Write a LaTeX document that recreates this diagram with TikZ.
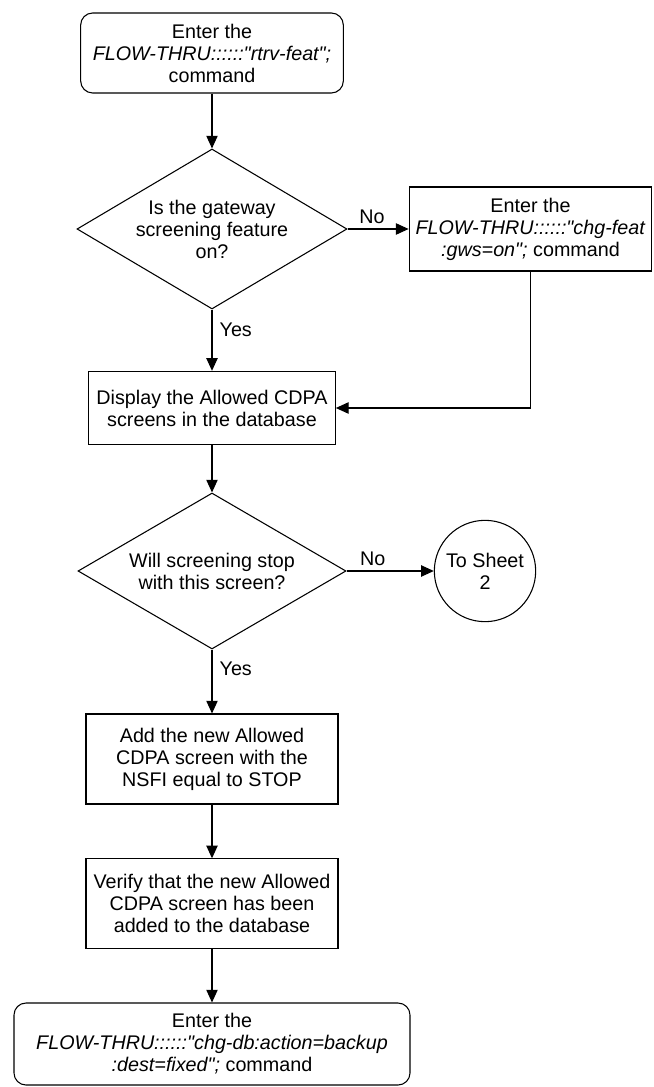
\documentclass[tikz,border=0pt]{standalone}
\usepackage{fontspec}
\setmainfont{Liberation Sans}[Ligatures=TeXOff]
\usetikzlibrary{arrows.meta,shapes.geometric}

\begin{document}
\begin{tikzpicture}[
  x=0.75pt,y=-0.75pt,
  font={\fontsize{14.8pt}{16.5pt}\selectfont},
  term/.style={rectangle,rounded corners=9pt,draw=black,line width=0.8pt,align=center,inner sep=0pt},
  proc/.style={rectangle,draw=black,line width=0.8pt,align=center,inner sep=0pt},
  decision/.style={diamond,aspect=1.7,draw=black,line width=0.8pt,align=center,inner sep=0pt},
  sheet/.style={circle,draw=black,line width=0.8pt,align=center,inner sep=0pt,minimum size=76pt},
  arc/.style={-{Triangle[length=9.5pt,width=8.5pt]},line width=0.8pt,black},
  lab/.style={black},
]
\useasboundingbox (0,0) rectangle (653,1087);
\node[term,minimum width=197pt,minimum height=60pt] (start) at (212,53) {Enter the\\\textit{FLOW-THRU::::::"rtrv-feat";}\\command};
\node[decision,minimum width=202.5pt,minimum height=120pt] (gws) at (212,229) {Is the gateway\\screening feature\\on?};
\node[proc,minimum width=182pt,minimum height=63pt] (chgfeat) at (530.5,229) {Enter the\\\textit{FLOW-THRU::::::"chg-feat}\\\textit{:gws=on";} command};
\node[proc,minimum width=185pt,minimum height=55pt] (disp) at (212,408) {Display the Allowed CDPA\\screens in the database};
\node[decision,minimum width=201pt,minimum height=117pt] (stop) at (212,571) {Will screening stop\\with this screen?};
\node[sheet] (sheet2) at (485,571) {To Sheet\\2};
\node[proc,minimum width=189pt,minimum height=67.5pt] (add) at (212,759) {Add the new Allowed\\CDPA screen with the\\NSFI equal to STOP};
\node[proc,minimum width=189pt,minimum height=67pt] (verify) at (212,903.5) {Verify that the new Allowed\\CDPA screen has been\\added to the database};
\node[term,minimum width=297pt,minimum height=61.5pt] (backup) at (212,1044) {Enter the\\\textit{FLOW-THRU::::::"chg-db:action=backup}\\\textit{:dest=fixed";} command};
\draw[arc] (start) -- (gws);
\draw[arc] (gws) -- node[lab,above,pos=0.4] {No} (chgfeat);
\draw[arc] (gws) -- node[lab,right,pos=0.33,xshift=2pt] {Yes} (disp);
\draw[arc] (chgfeat.south) |- (disp.east);
\draw[arc] (disp) -- (stop);
\draw[arc] (stop) -- node[lab,above,pos=0.3] {No} (sheet2);
\draw[arc] (stop) -- node[lab,right,pos=0.3,xshift=2pt] {Yes} (add);
\draw[arc] (add) -- (verify);
\draw[arc] (verify) -- (backup);
\end{tikzpicture}
\end{document}
